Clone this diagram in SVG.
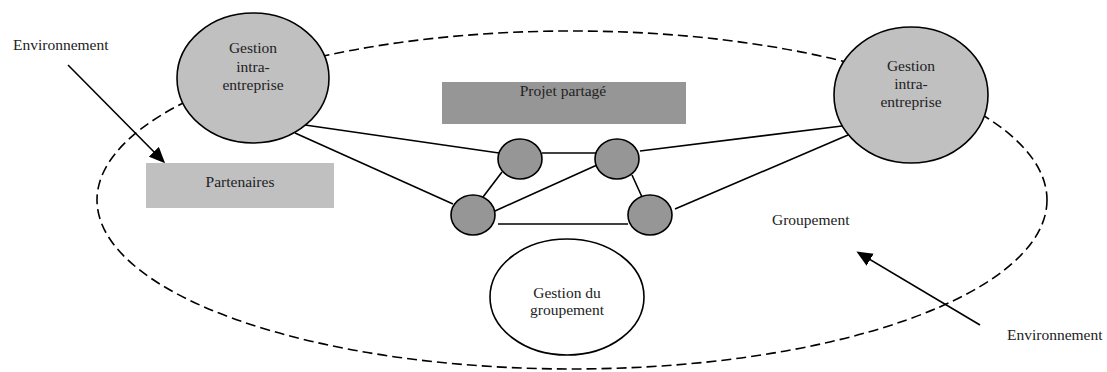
<svg xmlns="http://www.w3.org/2000/svg" width="1107" height="372" viewBox="0 0 1107 372">
<style>
text{font-family:"Liberation Serif","Times New Roman",serif;font-size:15.5px;fill:#222;text-anchor:middle}
.lbl{text-anchor:start}
.big{fill:#c0c0c0;stroke:#000;stroke-width:1.6}
.small{fill:#969696;stroke:#000;stroke-width:1.6}
.white{fill:#fff;stroke:#000;stroke-width:1.6}
.ln{stroke:#000;stroke-width:1.6;fill:none}
.dash{fill:none;stroke:#000;stroke-width:1.6;stroke-dasharray:10 5}
</style>
<defs>
<marker id="ah" markerUnits="userSpaceOnUse" markerWidth="16" markerHeight="14" refX="13" refY="7" orient="auto">
<path d="M0,0 L16,7 L0,14 z" fill="#000"/>
</marker>
</defs>
<rect width="1107" height="372" fill="#fff"/>
<g id="groupement-boundary">
<ellipse class="dash" cx="572" cy="200" rx="475" ry="169"/>
</g>
<g id="connectors">
<line class="ln" x1="305" y1="125" x2="499" y2="153"/>
<line class="ln" x1="295" y1="133" x2="453" y2="204"/>
<line class="ln" x1="542" y1="153" x2="596" y2="153"/>
<line class="ln" x1="502" y1="172" x2="483" y2="197"/>
<line class="ln" x1="495" y1="211" x2="597" y2="165"/>
<line class="ln" x1="632" y1="175" x2="642" y2="197"/>
<line class="ln" x1="498" y1="224" x2="628" y2="224"/>
<line class="ln" x1="640" y1="151" x2="842" y2="126"/>
<line class="ln" x1="675" y1="209" x2="848" y2="135"/>
<line class="ln" x1="68" y1="65" x2="163" y2="161" marker-end="url(#ah)"/>
<line class="ln" x1="980" y1="325" x2="859" y2="253" marker-end="url(#ah)"/>
</g>
<g id="partenaires">
<rect x="146" y="163" width="188" height="45" fill="#c0c0c0"/>
<text x="240" y="187">Partenaires</text>
</g>
<g id="projet-partage">
<rect x="442" y="82" width="244" height="42" fill="#969696"/>
<text x="563" y="96">Projet partagé</text>
</g>
<g id="gestion-intra-gauche">
<ellipse class="big" cx="253" cy="78" rx="76" ry="65"/>
<text x="253" y="53">Gestion</text>
<text x="253" y="72">intra-</text>
<text x="253" y="90">entreprise</text>
</g>
<g id="gestion-intra-droite">
<ellipse class="big" cx="911" cy="95" rx="77" ry="68"/>
<text x="911" y="71">Gestion</text>
<text x="911" y="89">intra-</text>
<text x="911" y="107">entreprise</text>
</g>
<g id="n1"><ellipse class="small" cx="520" cy="159" rx="22" ry="20"/></g>
<g id="n2"><ellipse class="small" cx="617" cy="159" rx="22" ry="20"/></g>
<g id="n3"><ellipse class="small" cx="473" cy="215" rx="22" ry="20"/></g>
<g id="n4"><ellipse class="small" cx="650" cy="215" rx="22" ry="20"/></g>
<g id="gestion-groupement">
<ellipse class="white" cx="567" cy="297" rx="77" ry="58"/>
<text x="567" y="298">Gestion du</text>
<text x="567" y="315">groupement</text>
</g>
<g id="labels">
<text class="lbl" x="13" y="50">Environnement</text>
<text class="lbl" x="1007" y="340">Environnement</text>
<text class="lbl" x="772" y="225">Groupement</text>
</g>
</svg>
